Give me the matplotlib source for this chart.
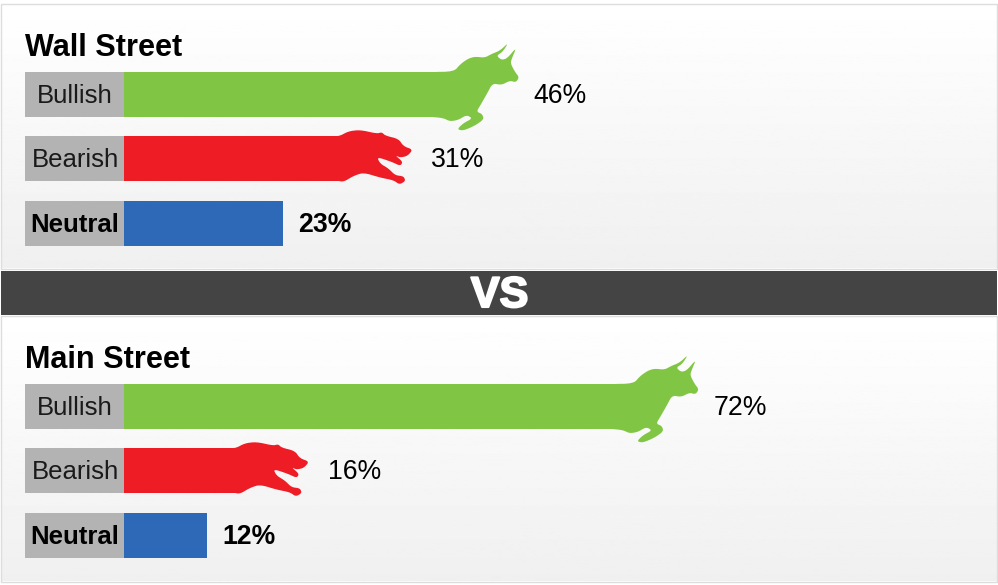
import numpy as np
import matplotlib
matplotlib.use("Agg")
import matplotlib.pyplot as plt
from matplotlib.patches import Polygon, Rectangle
from matplotlib.transforms import Affine2D, ScaledTranslation
import matplotlib.patheffects as pe

plt.rcParams['font.family'] = ['Liberation Sans', 'DejaVu Sans']

categories = ["Bullish", "Bearish", "Neutral"]
wall_street = [46, 31, 23]
main_street = [72, 16, 12]
panel_titles = ["Wall Street", "Main Street"]
divider_text = "VS"

W, H = 998, 585
DPI = 100
PX_PER_PCT = 6.91
ZERO_PX = 124
CELL_PX = 99
BAR_PX = 45
ROW_PX = 64.25
COLORS = ["#80c644", "#ee1c25", "#2e69b7"]
CELL = "#b3b3b3"

# decorative silhouettes, in pixels relative to (bar end, row centre)
BULL_Z = [(-5,126),(72,125),(92,102),(115,86),(135,80),(165,83),(185,72),(210,62),(236,38),(218,66),(200,77),
          (215,90),(232,85),(260,52),(246,85),(242,100),(255,125),(268,142),(258,157),(240,152),(215,165),(188,160),
          (172,190),(152,225),(140,245),(157,252),(162,268),(135,287),(100,302),(82,298),(100,280),(128,265),
          (110,255),(85,270),(60,274),(40,264),(-5,260)]
BEAR_Z = [(0,49),(55,49),(85,33),(120,29),(170,40),(185,36),(195,46),(235,56),(250,78),(278,88),
          (262,107),(240,112),(225,105),(248,125),(240,137),(215,125),(170,110),(180,130),(205,145),
          (225,165),(250,168),(256,182),(238,193),(220,180),(180,172),(130,157),(100,167),(70,185),(50,181),(0,181)]


def smooth(points, passes=2, r=0.22):
    p = np.asarray(points, float)
    for _ in range(passes):
        q = np.roll(p, -1, axis=0)
        p = np.column_stack([(1-r)*p + r*q, r*p + (1-r)*q]).reshape(-1, 2)
    return p


bull = smooth([(x/3 + 430 - 442, y/3 + 30 - 94.5) for x, y in BULL_Z])
bear = smooth([(x/3 + 320 - 338, y/3 + 120 - 158.5) for x, y in BEAR_Z])
SHAPES = [bull, bear, None]
LABEL_OFFSET = [92.0, 93.0, 15.0]

fig = plt.figure(figsize=(W/DPI, H/DPI), dpi=DPI, facecolor="white")

bg = fig.add_axes([0, 0, 1, 1])
bg.set_xlim(0, W); bg.set_ylim(H, 0); bg.axis("off")
grad = np.linspace(1.0, 0.94, 256).reshape(-1, 1)
for top, bot in [(4.0, 268.5), (316.0, 581.5)]:
    bg.imshow(grad, extent=(1, 997, bot, top), cmap="gray", vmin=0, vmax=1, aspect="auto", zorder=1)
    bg.add_patch(Rectangle((1, top), 996, bot-top, fill=False, ec="#dddddd", lw=1.0, zorder=2))
bg.set_xlim(0, W); bg.set_ylim(H, 0)
bg.add_patch(Rectangle((1, 270.5), 996, 44.5, fc="#444444", ec="none", zorder=3))
bg.text(499.5, 296, divider_text, color="white", fontsize=31, fontweight="bold", ha="center", va="center",
        zorder=4, path_effects=[pe.withStroke(linewidth=1.5, foreground="white")])


def panel(values, title, first_center, title_y):
    y0 = first_center - ROW_PX
    y1 = first_center + 3*ROW_PX
    ax = fig.add_axes([0, 1 - y1/H, 1, (y1-y0)/H])
    ax.patch.set_alpha(0)
    ax.set_xlim(-ZERO_PX/PX_PER_PCT, (W-ZERO_PX)/PX_PER_PCT)
    ax.set_ylim(3, -1)
    ax.axis("off")
    ys = np.arange(len(categories))
    h = BAR_PX/ROW_PX
    ax.barh(ys, [CELL_PX/PX_PER_PCT]*3, left=-CELL_PX/PX_PER_PCT, height=h, color=CELL, zorder=2)
    ax.barh(ys, values, height=h, color=COLORS, zorder=3)
    scale = Affine2D().scale(1, -1)
    for y, v, cat, col, shape, off in zip(ys, values, categories, COLORS, SHAPES, LABEL_OFFSET):
        bold = cat == "Neutral"
        ax.annotate(cat, (-CELL_PX/2/PX_PER_PCT, y), xytext=(0.5*72/DPI, 0.8*72/DPI), textcoords="offset points",
                    ha="center", va="center_baseline", fontsize=18.5,
                    fontweight="bold" if bold else "normal", color="black" if bold else "#1a1a1a", zorder=4)
        if shape is not None:
            tr = scale + ScaledTranslation(*ax.transData.transform((v, y)), Affine2D())
            ax.add_patch(Polygon(shape, closed=True, fc=col, ec="none", transform=tr, zorder=4, clip_on=False))
        ax.annotate(f"{v}%", (v, y), xytext=(off*72/DPI, 1.3*72/DPI), textcoords="offset points", ha="left",
                    va="center_baseline", fontsize=19.2, fontweight="bold" if bold else "normal",
                    color="black", zorder=5)
    bg.text(25, title_y, title, fontsize=22.1, fontweight="bold", color="black", ha="left",
            va="center_baseline", zorder=5)


panel(wall_street, panel_titles[0], 94.5, 45)
panel(main_street, panel_titles[1], 406.5, 357)

fig.savefig("out.png", dpi=DPI)
